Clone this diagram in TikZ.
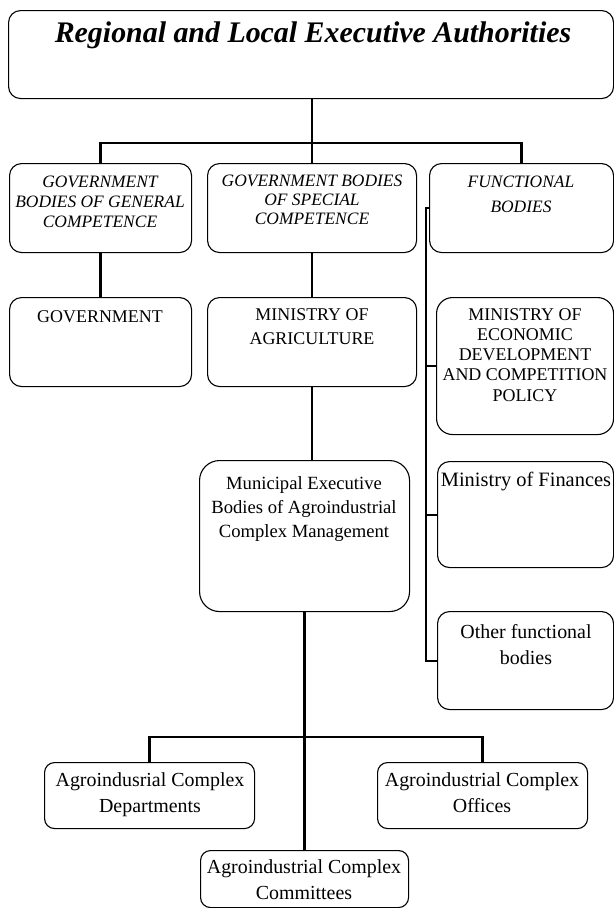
\documentclass[tikz,border=0pt]{standalone}
\usepackage{fontspec}
\setmainfont{Liberation Serif}
\begin{document}
\begin{tikzpicture}[x=1bp,y=-1bp,
  box/.style={draw=black, line width=1.1bp, rounded corners=12bp, inner sep=0pt, anchor=north west},
  conn/.style={draw=black, line width=2.2bp},
  T/.style 2 args={font=\fontsize{#1}{#2}\selectfont, align=center, inner sep=0pt, anchor=base},
  TI/.style 2 args={font=\fontsize{#1}{#2}\selectfont\itshape, align=center, inner sep=0pt, anchor=base},
  TB/.style 2 args={font=\fontsize{#1}{#2}\selectfont\bfseries\itshape, align=center, inner sep=0pt, anchor=base}]
\useasboundingbox (0,0) rectangle (614,908);
% boxes
\node[box, minimum width=605bp, minimum height=88bp] (top) at (8,10) {};
\node[box, minimum width=182bp, minimum height=89bp] (A) at (9,163) {};
\node[box, minimum width=209bp, minimum height=89bp] (B) at (207,163) {};
\node[box, minimum width=184bp, minimum height=89bp] (C) at (429,163) {};
\node[box, minimum width=182bp, minimum height=89bp] (gov) at (9,297) {};
\node[box, minimum width=209bp, minimum height=89bp] (moa) at (207,297) {};
\node[box, minimum width=177bp, minimum height=137bp, rounded corners=16bp] (moe) at (436,297) {};
\node[box, minimum width=176bp, minimum height=106bp] (fin) at (437,461) {};
\node[box, minimum width=176bp, minimum height=98bp] (oth) at (437,611) {};
\node[box, minimum width=210bp, minimum height=151bp, rounded corners=20bp] (mun) at (199,460) {};
\node[box, minimum width=210bp, minimum height=66bp, rounded corners=10bp] (dep) at (44,762) {};
\node[box, minimum width=210bp, minimum height=66bp, rounded corners=10bp] (off) at (377,762) {};
\node[box, minimum width=208bp, minimum height=57bp, rounded corners=10bp] (com) at (200,850) {};
% texts (anchor = baseline of last line)
\node[TB={30}{34}] (ttop) at (313,42) {Regional and Local Executive Authorities};
\node[TI={17.5}{20}] (tA) at (100,227) {GOVERNMENT\\BODIES OF GENERAL\\COMPETENCE};
\node[TI={17.5}{19}] (tB) at (312,224) {GOVERNMENT BODIES\\OF SPECIAL\\COMPETENCE};
\node[TI={17.5}{25}] (tC) at (521,212) {FUNCTIONAL\\BODIES};
\node[T={18}{20}] (tgov) at (100,322) {GOVERNMENT};
\node[T={18}{24}] (tmoa) at (312,344) {MINISTRY OF\\AGRICULTURE};
\node[T={18}{20.3}] (tmoe) at (525,401) {MINISTRY OF\\ECONOMIC\\DEVELOPMENT\\AND COMPETITION\\POLICY};
\node[T={20.5}{24}] (tfin) at (526,486) {Ministry of Finances};
\node[T={20}{26}] (toth) at (526,664) {Other functional\\bodies};
\node[T={18.7}{24}] (tmun) at (304,537) {Municipal Executive\\Bodies of Agroindustrial\\Complex Management};
\node[T={20}{26}] (tdep) at (150,812) {Agroindusrial Complex\\Departments};
\node[T={20}{26}] (toff) at (482,812) {Agroindustrial Complex\\Offices};
\node[T={20}{26}] (tcom) at (304,899) {Agroindustrial Complex\\Committees};
% connectors
\draw[conn] (B.north) -- (top.south -| B.north);
\draw[conn] (A.north) -- ++(0,-20) -| (C.north);
\draw[conn] (A.south) -- (gov.north);
\draw[conn] (B.south) -- (moa.north);
\draw[conn] (moa.south) -- (moa.south |- mun.north);
\draw[conn] (mun.south) -- (com.north);
\draw[conn] (dep.north) -- ++(0,-25) -| (off.north);
\coordinate (bus) at (426,0);
\draw[conn, line width=2bp] (C.west) -- (C.west -| bus) -- (oth.west -| bus) -- (oth.west);
\draw[conn, line width=2bp] (moe.west -| bus) -- (moe.west);
\draw[conn, line width=2bp] (fin.west -| bus) -- (fin.west);
\end{tikzpicture}
\end{document}
